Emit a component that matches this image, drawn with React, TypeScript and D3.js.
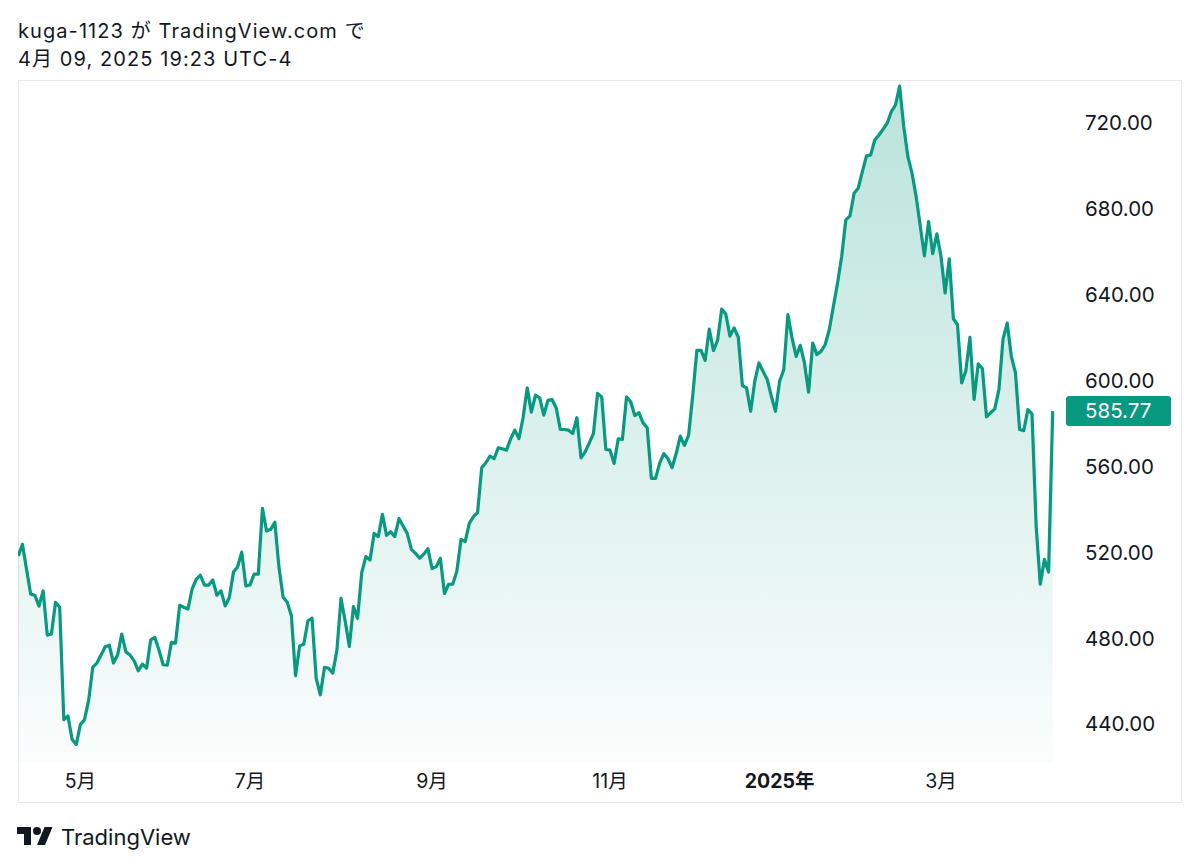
import { useEffect, useRef } from 'react';
import * as d3 from 'd3';

// META daily closes, 2024-04-10 .. 2025-04-09
const closes = [
  518.3, 523.7, 512.0, 500.5, 500.0, 494.9, 502.0, 481.4, 481.9, 496.7,
  494.4, 442.0, 443.7, 432.8, 430.4, 439.7, 442.0, 451.0, 466.5, 468.4,
  472.1, 476.0, 476.7, 468.4, 472.1, 481.9, 473.6, 472.1, 469.4, 464.8,
  467.9, 466.0, 479.2, 480.3, 474.5, 467.6, 467.4, 478.0, 477.7, 495.3,
  494.4, 493.5, 502.8, 507.4, 509.3, 504.7, 504.7, 507.1, 500.0, 502.0,
  495.0, 498.9, 510.8, 513.2, 520.1, 504.3, 504.8, 509.8, 509.8, 540.5,
  529.9, 530.7, 534.0, 513.0, 499.1, 496.7, 490.4, 462.5, 476.4, 477.2,
  488.1, 489.3, 461.3, 453.6, 466.4, 466.0, 463.7, 474.4, 498.5, 488.0,
  476.1, 494.7, 489.2, 510.5, 518.0, 516.4, 528.8, 527.3, 537.7, 527.9,
  529.6, 527.3, 535.7, 532.2, 528.8, 521.4, 519.5, 517.2, 519.1, 521.7,
  512.4, 513.3, 517.2, 500.8, 505.1, 505.1, 511.3, 526.0, 525.0, 533.5,
  536.6, 538.5, 559.4, 561.7, 564.8, 563.6, 568.7, 568.2, 567.6, 572.9,
  576.9, 573.0, 582.7, 596.6, 585.3, 593.2, 592.0, 583.9, 590.8, 591.2,
  587.3, 577.2, 577.2, 576.9, 575.3, 582.7, 564.0, 566.8, 571.0, 575.3,
  594.0, 592.4, 567.9, 567.6, 561.4, 572.9, 572.6, 592.4, 590.1, 583.7,
  585.0, 580.3, 578.0, 554.4, 554.4, 561.4, 566.0, 563.7, 559.4, 566.0,
  574.1, 569.8, 574.6, 593.0, 614.1, 614.1, 609.4, 624.0, 614.0, 618.7,
  633.3, 630.9, 620.7, 624.5, 620.3, 597.7, 596.6, 585.7, 599.7, 608.2,
  604.3, 600.5, 592.7, 585.7, 599.7, 605.1, 630.7, 619.9, 611.3, 616.4,
  608.2, 594.6, 617.5, 612.1, 613.6, 616.7, 623.7, 634.6, 645.4, 657.8,
  674.9, 676.7, 687.3, 689.6, 697.3, 704.7, 705.1, 712.1, 714.4, 717.1,
  719.9, 725.3, 728.4, 737.2, 718.3, 704.3, 696.6, 685.7, 671.8, 658.1,
  674.1, 659.1, 668.4, 657.8, 640.8, 656.7, 628.8, 626.0, 598.9, 604.5,
  620.1, 591.2, 607.8, 605.6, 583.1, 585.0, 586.8, 595.8, 619.4, 626.8,
  611.3, 603.6, 577.2, 576.7, 586.5, 584.5, 532.2, 505.1, 516.7, 510.8,
  585.77,
];

const priceTicks = [440, 480, 520, 560, 600, 640, 680, 720];

// first trading session of each labelled month (index into closes)
const monthLabels = ['5月', '7月', '9月', '11月', '2025年', '3月'];
const monthStarts = [15, 56, 100, 143, 184, 223];
const yearLabels = ['2025年'];

const titleLines = ['kuga-1123 が TradingView.com で', '4月 09, 2025 19:23 UTC-4'];

const GREEN = '#089981';
const TEXT = '#131722';
const FONT = "Inter, 'Noto Sans CJK JP', sans-serif";

export default function App() {
  const svgRef = useRef<SVGSVGElement>(null);

  useEffect(() => {
    if (!svgRef.current) return;
    const svg = d3.select(svgRef.current);
    svg.selectAll('*').remove();

    const frame = { left: 18, top: 80, right: 1182, bottom: 803 };
    const plot = { left: 18, top: 81, right: 1062, bottom: 762 };

    const x = d3.scaleLinear().domain([0, closes.length - 1]).range([18.3, 1052.7]);
    const y = d3.scaleLinear().domain([440, 720]).range([724, 123]);

    svg.append('rect').attr('width', 1200).attr('height', 868).attr('fill', '#fff');

    // title
    svg
      .selectAll('.title')
      .data(titleLines)
      .enter()
      .append('text')
      .attr('x', 18)
      .attr('y', (_, i) => 38 + i * 27.5)
      .attr('font-family', FONT)
      .attr('font-size', 20)
      .attr('letter-spacing', 1.08)
      .attr('fill', TEXT)
      .text((d) => d);

    // frame
    svg
      .append('rect')
      .attr('x', frame.left + 0.5)
      .attr('y', frame.top + 0.5)
      .attr('width', frame.right - frame.left - 1)
      .attr('height', frame.bottom - frame.top - 1)
      .attr('fill', 'none')
      .attr('stroke', '#e6e8ec');

    const defs = svg.append('defs');
    defs
      .append('clipPath')
      .attr('id', 'plot-clip')
      .append('rect')
      .attr('x', plot.left)
      .attr('y', plot.top)
      .attr('width', plot.right - plot.left)
      .attr('height', plot.bottom - plot.top);

    const grad = defs
      .append('linearGradient')
      .attr('id', 'area-grad')
      .attr('gradientUnits', 'userSpaceOnUse')
      .attr('x1', 0)
      .attr('x2', 0)
      .attr('y1', y(737))
      .attr('y2', plot.bottom);
    grad.append('stop').attr('offset', 0).attr('stop-color', GREEN).attr('stop-opacity', 0.28);
    grad.append('stop').attr('offset', 1).attr('stop-color', GREEN).attr('stop-opacity', 0.02);

    const g = svg.append('g').attr('clip-path', 'url(#plot-clip)');

    const area = d3
      .area<number>()
      .x((_, i) => x(i))
      .y0(plot.bottom)
      .y1((d) => y(d));

    const line = d3
      .line<number>()
      .x((_, i) => x(i))
      .y((d) => y(d));

    g.append('path').datum(closes).attr('d', area).attr('fill', 'url(#area-grad)');
    g.append('path')
      .datum(closes)
      .attr('d', line)
      .attr('fill', 'none')
      .attr('stroke', GREEN)
      .attr('stroke-width', 3.2)
      .attr('stroke-linejoin', 'round');

    // price axis
    svg
      .selectAll('.price')
      .data(priceTicks)
      .enter()
      .append('text')
      .attr('x', 1085)
      .attr('y', (d) => y(d))
      .attr('dy', '0.36em')
      .attr('font-family', FONT)
      .attr('font-size', 20.5)
      .attr('fill', TEXT)
      .text((d) => d.toFixed(2));

    // last price tag
    const last = closes[closes.length - 1];
    svg
      .append('rect')
      .attr('x', 1066)
      .attr('y', y(last) - 15)
      .attr('width', 105)
      .attr('height', 30)
      .attr('rx', 3)
      .attr('fill', GREEN);
    svg
      .append('text')
      .attr('x', 1085)
      .attr('y', y(last))
      .attr('dy', '0.36em')
      .attr('font-family', FONT)
      .attr('font-size', 20.5)
      .attr('fill', '#fff')
      .text(last.toFixed(2));

    // time axis
    svg
      .selectAll('.month')
      .data(monthLabels)
      .enter()
      .append('text')
      .attr('x', (_, i) => x(monthStarts[i]))
      .attr('y', 781)
      .attr('dy', '0.36em')
      .attr('text-anchor', 'middle')
      .attr('font-family', FONT)
      .attr('font-size', 19.5)
      .attr('font-weight', (d) => (yearLabels.includes(d) ? 700 : 400))
      .attr('fill', TEXT)
      .text((d) => d);

    // footer logo
    const logo = svg.append('g').attr('transform', 'translate(17,823)').attr('fill', TEXT);
    logo.append('path').attr('d', 'M14 22H7V11H0V4h14v18zM28 22h-8l7.5-18h8L28 22z');
    logo.append('circle').attr('cx', 20).attr('cy', 8).attr('r', 4);
    svg
      .append('text')
      .attr('x', 61)
      .attr('y', 845)
      .attr('font-family', FONT)
      .attr('font-size', 22)
      .attr('fill', TEXT)
      .text('TradingView');
  }, []);

  return (
    <svg
      ref={svgRef}
      width={1200}
      height={868}
      style={{ position: 'absolute', left: 0, top: 0 }}
    />
  );
}
